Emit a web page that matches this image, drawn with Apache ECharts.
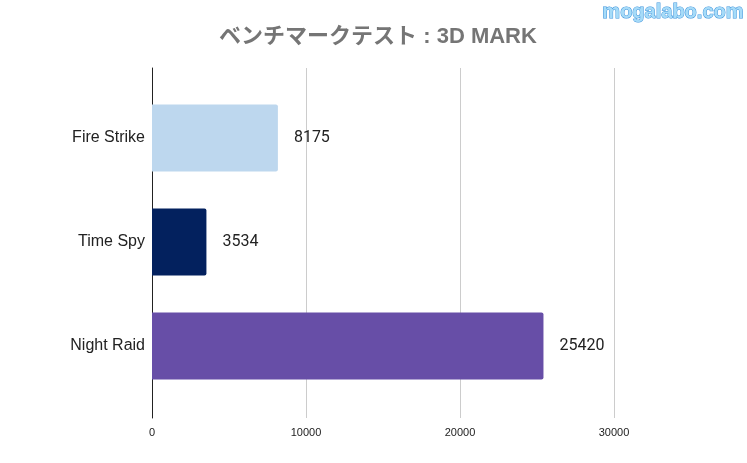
<!DOCTYPE html>
<html>
<head>
<meta charset="utf-8">
<script src="https://cdn.jsdelivr.net/npm/echarts@6/dist/echarts.min.js"></script>
<style>
  html, body { margin: 0; padding: 0; background: #fff; }
  #chart { width: 747px; height: 463px; }
</style>
</head>
<body>
<div id="chart"></div>
<script>
const categories = ['Fire Strike', 'Time Spy', 'Night Raid']
const scores = [8175, 3534, 25420]
const barColors = ['#bdd7ee', '#03215e', '#674ea7']
const xTicks = [0, 10000, 20000, 30000]

const chart = echarts.init(document.getElementById('chart'))

const option = {
  backgroundColor: '#fff',
  animation: false,
  title: {
    text: 'ベンチマークテスト : 3D MARK',
    left: 373,
    textAlign: 'center',
    top: 21,
    textStyle: {
      fontFamily: '"Liberation Sans", "Noto Sans CJK JP", sans-serif',
      fontSize: 22,
      fontWeight: 'bold',
      color: '#757575'
    }
  },
  graphic: [{
    type: 'text',
    right: 3,
    top: 2,
    style: {
      text: 'mogalabo.com',
      font: 'bold 20px "Liberation Sans", Arial, sans-serif',
      fill: '#a6dbf8',
      stroke: '#3d93dc',
      lineWidth: 1
    }
  }],
  grid: [
    // gridlines / ticks
    { left: 152, right: 133, top: 68, height: 350 },
    // bars
    { left: 152, right: 133, top: 86, height: 312 }
  ],
  xAxis: [
    {
      gridIndex: 0,
      type: 'value',
      min: xTicks[0],
      max: xTicks[xTicks.length - 1],
      interval: 10000,
      axisLine: { show: false },
      axisTick: { show: false },
      axisLabel: {
        margin: 9,
        fontSize: 11,
        color: '#222',
        fontFamily: '"Liberation Sans", Arial, sans-serif',
        formatter: v => String(v)
      },
      splitLine: { lineStyle: { color: '#cccccc', width: 1 } }
    },
    {
      gridIndex: 1,
      type: 'value',
      min: xTicks[0],
      max: xTicks[xTicks.length - 1],
      show: false
    }
  ],
  yAxis: [
    {
      gridIndex: 0,
      type: 'value',
      axisLine: { show: true, lineStyle: { color: '#222', width: 1 } },
      axisTick: { show: false },
      axisLabel: { show: false },
      splitLine: { show: false }
    },
    {
      gridIndex: 1,
      type: 'category',
      data: categories,
      inverse: true,
      axisLine: { show: false },
      axisTick: { show: false },
      axisLabel: {
        margin: 7,
        fontSize: 16,
        color: '#222',
        padding: [3, 0, 0, 0],
        fontFamily: '"Liberation Sans", Arial, sans-serif'
      }
    }
  ],
  series: [{
    type: 'bar',
    xAxisIndex: 1,
    yAxisIndex: 1,
    barWidth: 67,
    data: scores.map((v, i) => ({
      value: v,
      itemStyle: { color: barColors[i], borderRadius: [0, 2, 2, 0] }
    })),
    label: {
      show: true,
      position: 'right',
      distance: 16,
      fontSize: 16,
      color: '#222',
      padding: [3, 0, 0, 0],
      fontFamily: 'Roboto, sans-serif'
    }
  }]
}

chart.setOption(option)
</script>
</body>
</html>
